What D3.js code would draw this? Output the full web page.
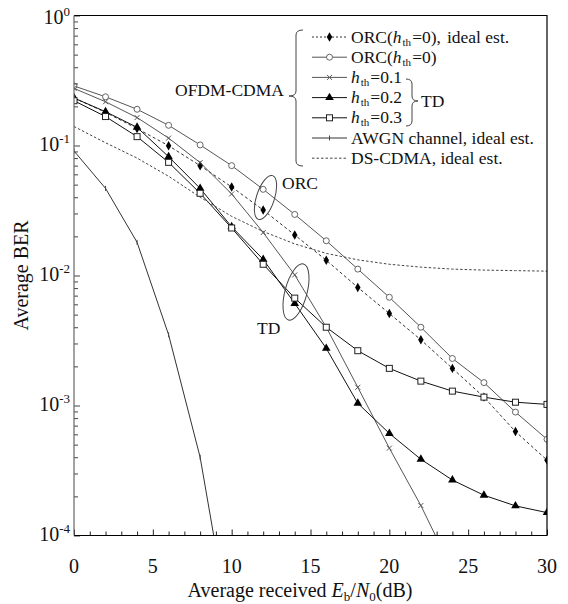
<!DOCTYPE html>
<html>
<head>
<meta charset="utf-8">
<script src="https://cdn.jsdelivr.net/npm/d3@7"></script>
<style>
  html, body { margin: 0; padding: 0; background: #fff; }
  svg { display: block; }
  svg text { font-family: "Liberation Serif", "Times New Roman", Times, serif; }
</style>
</head>
<body>
<svg id="chart" width="568" height="604"></svg>
<script>
// Eb/N0 grid (dB)
const snr = [0, 2, 4, 6, 8, 10, 12, 14, 16, 18, 20, 22, 24, 26, 28, 30];
const xTickValues = [0, 5, 10, 15, 20, 25, 30];
const yDecades = [1, 0.1, 0.01, 0.001, 0.0001];
const yTickExponents = ["0", "-1", "-2", "-3", "-4"];

// BER curves
const orcIdeal = [0.232, 0.18, 0.135, 0.0996, 0.070, 0.048, 0.0319, 0.0205, 0.0131, 0.0081, 0.0051, 0.0032, 0.00193, 0.00116, 0.00063, 0.00038];
const orc      = [0.287, 0.237, 0.190, 0.143, 0.101, 0.070, 0.046, 0.0295, 0.0185, 0.0112, 0.0068, 0.0040, 0.0023, 0.0015, 0.00089, 0.00055];
const td01     = [0.275, 0.217, 0.164, 0.114, 0.0738, 0.0424, 0.0214, 0.0101, 0.0040, 0.00138, 0.00047, 0.00017, 0.000054];
const td02     = [0.232, 0.182, 0.138, 0.082, 0.0468, 0.0237, 0.0133, 0.0061, 0.00275, 0.00104, 0.00061, 0.000386, 0.000267, 0.000204, 0.000169, 0.00015];
const td03     = [0.221, 0.167, 0.117, 0.0742, 0.0429, 0.0232, 0.0122, 0.0067, 0.0040, 0.00264, 0.00193, 0.00154, 0.00129, 0.00116, 0.00106, 0.00102];
const awgn     = [0.0907, 0.0468, 0.018, 0.0035, 0.0004, 0.000016];
const dsCdma   = [0.14, 0.105, 0.080, 0.058, 0.040, 0.0285, 0.0218, 0.0175, 0.0148, 0.0132, 0.0122, 0.0116, 0.0112, 0.0110, 0.0109, 0.0108];

const legendLabels = [
  { name: "ORC", suffix: "ideal est." },
  { name: "ORC", suffix: "" },
  { name: "", value: "0.1" },
  { name: "", value: "0.2" },
  { name: "", value: "0.3" },
  { plain: "AWGN channel, ideal est." },
  { plain: "DS-CDMA, ideal est." }
];

const FONT = "Liberation Serif, Times New Roman, Times, serif";
const margin = { left: 74, right: 21, top: 15.5, bottom: 68.5 };
const W = 568, H = 604;
const svg = d3.select("#chart").attr("font-family", FONT);

const x = d3.scaleLinear().domain([0, 30]).range([margin.left, W - margin.right]);
const y = d3.scaleLog().domain([1e-4, 1]).range([H - margin.bottom, margin.top]);

// clip for curves
svg.append("defs").append("clipPath").attr("id", "plotclip")
  .append("rect")
  .attr("x", x(0)).attr("y", y(1))
  .attr("width", x(30) - x(0)).attr("height", y(1e-4) - y(1));

const series = [
  { values: orcIdeal, stroke: "#333", dash: "3,2.5", marker: "diamond" },
  { values: orc, stroke: "#555", dash: null, marker: "circle" },
  { values: td01, stroke: "#555", dash: null, marker: "cross" },
  { values: td02, stroke: "#111", dash: null, marker: "triangle" },
  { values: td03, stroke: "#111", dash: null, marker: "square" },
  { values: awgn, stroke: "#333", dash: null, marker: "tick" },
  { values: dsCdma, stroke: "#444", dash: "2.5,2", marker: null }
];

function drawMarker(g, type, cx, cy) {
  if (type === "diamond") {
    g.append("path").attr("d", d3.symbol().type(d3.symbolDiamond).size(26)())
      .attr("transform", `translate(${cx},${cy})`).attr("fill", "#000");
  } else if (type === "circle") {
    g.append("circle").attr("cx", cx).attr("cy", cy).attr("r", 3)
      .attr("fill", "#fff").attr("stroke", "#666").attr("stroke-width", 1);
  } else if (type === "cross") {
    const s = 2.5;
    g.append("path").attr("d", `M${cx - s},${cy - s}L${cx + s},${cy + s}M${cx - s},${cy + s}L${cx + s},${cy - s}`)
      .attr("stroke", "#555").attr("stroke-width", 1);
  } else if (type === "triangle") {
    g.append("path").attr("d", d3.symbol().type(d3.symbolTriangle).size(32)())
      .attr("transform", `translate(${cx},${cy})`).attr("fill", "#000");
  } else if (type === "square") {
    g.append("rect").attr("x", cx - 3).attr("y", cy - 3).attr("width", 6).attr("height", 6)
      .attr("fill", "#fff").attr("stroke", "#222").attr("stroke-width", 1);
  } else if (type === "tick") {
    g.append("path").attr("d", `M${cx},${cy - 2.5}L${cx},${cy + 2.5}`)
      .attr("stroke", "#444").attr("stroke-width", 1);
  }
}

// curves
const plot = svg.append("g").attr("clip-path", "url(#plotclip)");
const line = d3.line().x((d, i) => x(snr[i])).y(d => y(d));
series.forEach(s => {
  plot.append("path").datum(s.values)
    .attr("d", line)
    .attr("fill", "none")
    .attr("stroke", s.stroke)
    .attr("stroke-width", 1)
    .attr("stroke-dasharray", s.dash);
});
series.forEach(s => {
  if (!s.marker) return;
  const g = plot.append("g");
  s.values.forEach((v, i) => drawMarker(g, s.marker, x(snr[i]), y(v)));
});

// axes (ticks pointing into the plot)
const minorY = [];
[1e-4, 1e-3, 1e-2, 1e-1].forEach(d => { for (let k = 2; k <= 9; k++) minorY.push(d * k); });
const minorX = d3.range(0, 31).filter(v => v % 5 !== 0);

svg.append("g").attr("transform", `translate(0,${y(1e-4)})`)
  .call(d3.axisBottom(x).tickValues(minorX).tickSize(-4).tickFormat(""))
  .call(g => g.select(".domain").remove())
  .call(g => g.selectAll("line").attr("stroke", "#222"));
svg.append("g").attr("transform", `translate(0,${y(1e-4)})`)
  .call(d3.axisBottom(x).tickValues(xTickValues).tickSize(-6).tickFormat(""))
  .call(g => g.select(".domain").remove())
  .call(g => g.selectAll("line").attr("stroke", "#222"));

svg.append("g").attr("transform", `translate(${x(0)},0)`)
  .call(d3.axisLeft(y).tickValues(minorY).tickSize(-4).tickFormat(""))
  .call(g => g.select(".domain").remove())
  .call(g => g.selectAll("line").attr("stroke", "#444"));
svg.append("g").attr("transform", `translate(${x(0)},0)`)
  .call(d3.axisLeft(y).tickValues(yDecades).tickSize(-6).tickFormat(""))
  .call(g => g.select(".domain").remove())
  .call(g => g.selectAll("line").attr("stroke", "#444"));

// frame
svg.append("path")
  .attr("d", `M${x(0)},${y(1)}H${x(30)}V${y(1e-4)}`)
  .attr("fill", "none").attr("stroke", "#000").attr("stroke-width", 1.2);
svg.append("path")
  .attr("d", `M${x(0)},${y(1e-4)}H${x(30)}`)
  .attr("fill", "none").attr("stroke", "#000").attr("stroke-width", 1.2);
svg.append("path")
  .attr("d", `M${x(0)},${y(1)}V${y(1e-4)}`)
  .attr("fill", "none").attr("stroke", "#666").attr("stroke-width", 1.2);

// tick labels
svg.append("g").selectAll("text").data(xTickValues).join("text")
  .attr("x", d => x(d)).attr("y", y(1e-4) + 37)
  .attr("font-family", FONT)
  .attr("text-anchor", "middle").attr("font-size", 20).attr("fill", "#111")
  .text(d => d);

const yLab = svg.append("g");
yDecades.forEach((d, i) => {
  const t = yLab.append("text")
    .attr("x", x(0) - 4).attr("y", y(d) + (i === 0 ? 8 : 5))
    .attr("font-family", FONT)
    .attr("text-anchor", "end").attr("font-size", 20).attr("fill", "#111");
  t.append("tspan").text("10");
  t.append("tspan").attr("font-size", 13).attr("dy", -8).text(yTickExponents[i]);
});

// axis titles
svg.append("text")
  .attr("transform", `translate(28,${(y(1) + y(1e-4)) / 2}) rotate(-90)`)
  .attr("font-family", FONT)
  .attr("text-anchor", "middle").attr("font-size", 20).attr("fill", "#111")
  .text("Average BER");

const xt = svg.append("text")
  .attr("x", 300).attr("y", 597)
  .attr("font-family", FONT)
  .attr("text-anchor", "middle").attr("font-size", 20).attr("fill", "#111");
xt.append("tspan").text("Average received ");
xt.append("tspan").attr("font-style", "italic").text("E");
xt.append("tspan").attr("font-size", 13).attr("dy", 4).text("b");
xt.append("tspan").attr("dy", -4).text("/");
xt.append("tspan").attr("font-style", "italic").text("N");
xt.append("tspan").attr("font-size", 13).attr("dy", 4).text("0");
xt.append("tspan").attr("dy", -4).text("(dB)");

// legend
const leg = svg.append("g");
const rowY0 = 37, rowStep = 20.2, lx0 = 312, lx1 = 347, tx = 351, LFS = 17.5;
series.forEach((s, i) => {
  const ry = rowY0 + i * rowStep;
  leg.append("line").attr("x1", lx0).attr("x2", lx1).attr("y1", ry).attr("y2", ry)
    .attr("stroke", s.stroke).attr("stroke-width", 1).attr("stroke-dasharray", i === 0 ? "2,2" : s.dash);
  if (s.marker) drawMarker(leg, s.marker, (lx0 + lx1) / 2, ry);
  const lab = legendLabels[i];
  const t = leg.append("text").attr("x", tx).attr("y", ry + 5.5)
    .attr("font-family", FONT)
    .attr("font-size", LFS).attr("fill", "#111");
  if (lab.plain) {
    t.text(lab.plain);
  } else if (lab.name) {
    t.append("tspan").text(lab.name + "(");
    t.append("tspan").attr("font-style", "italic").text("h");
    t.append("tspan").attr("font-size", 11).attr("dx", 1).attr("dy", 3).text("th");
    t.append("tspan").attr("dy", -3).attr("dx", 1).text("=0)" + (lab.suffix ? "," : ""));
    if (lab.suffix) t.append("tspan").attr("dx", 6).text(lab.suffix);
  } else {
    t.append("tspan").attr("font-style", "italic").text("h");
    t.append("tspan").attr("font-size", 11).attr("dx", 1).attr("dy", 3).text("th");
    t.append("tspan").attr("dy", -3).attr("dx", 1).text("=" + lab.value);
  }
});

// braces
function leftBrace(xTip, y0, y1, yMid, w) {
  const xm = xTip + w / 2, xe = xTip + w, r = 5;
  return `M${xe},${y0}Q${xm},${y0} ${xm},${y0 + r}L${xm},${yMid - r}Q${xm},${yMid} ${xTip},${yMid}` +
         `Q${xm},${yMid} ${xm},${yMid + r}L${xm},${y1 - r}Q${xm},${y1} ${xe},${y1}`;
}
function rightBrace(xTip, y0, y1, yMid, w) {
  const xm = xTip - w / 2, xe = xTip - w, r = 5;
  return `M${xe},${y0}Q${xm},${y0} ${xm},${y0 + r}L${xm},${yMid - r}Q${xm},${yMid} ${xTip},${yMid}` +
         `Q${xm},${yMid} ${xm},${yMid + r}L${xm},${y1 - r}Q${xm},${y1} ${xe},${y1}`;
}
leg.append("path").attr("d", leftBrace(289, 30, 166, 96, 14))
  .attr("fill", "none").attr("stroke", "#444").attr("stroke-width", 1);
leg.append("path").attr("d", rightBrace(418, 79, 126, 101, 12))
  .attr("fill", "none").attr("stroke", "#444").attr("stroke-width", 1);
leg.append("text").attr("x", 421).attr("y", 107).attr("font-family", FONT)
  .attr("font-size", LFS).attr("fill", "#111").text("TD");
leg.append("text").attr("x", 175).attr("y", 96).attr("font-family", FONT)
  .attr("font-size", LFS).attr("fill", "#111").text("OFDM-CDMA");

// annotations
const ann = svg.append("g");
ann.append("ellipse").attr("cx", 0).attr("cy", 0).attr("rx", 9).attr("ry", 23)
  .attr("transform", `translate(265.5,197.5) rotate(18)`)
  .attr("fill", "none").attr("stroke", "#444").attr("stroke-width", 1);
ann.append("text").attr("x", 282).attr("y", 189).attr("font-family", FONT)
  .attr("font-size", LFS).attr("fill", "#111").text("ORC");
ann.append("ellipse").attr("cx", 0).attr("cy", 0).attr("rx", 11).attr("ry", 29)
  .attr("transform", `translate(296,292) rotate(15)`)
  .attr("fill", "none").attr("stroke", "#444").attr("stroke-width", 1);
ann.append("text").attr("x", 257).attr("y", 334).attr("font-family", FONT)
  .attr("font-size", LFS).attr("fill", "#111").text("TD");
</script>
</body>
</html>
